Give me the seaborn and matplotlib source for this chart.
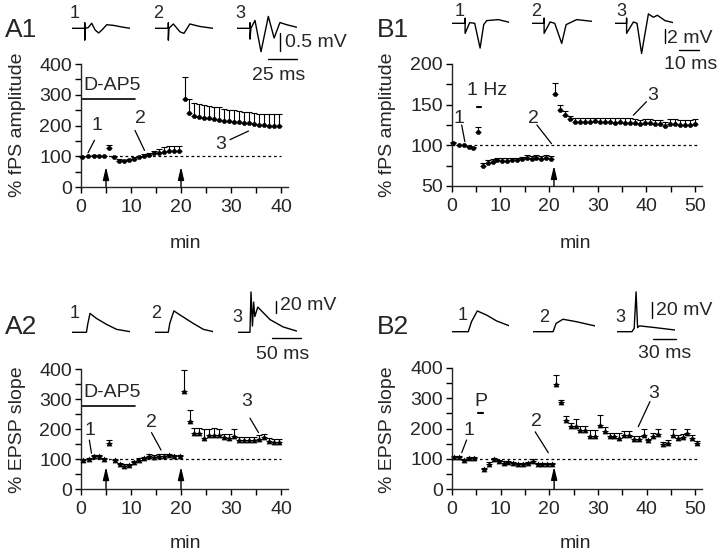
import numpy as np
import matplotlib
matplotlib.use("Agg")
import matplotlib.pyplot as plt
import seaborn as sns

W, H = 720, 554

# ---------------- time course data (min, % baseline, upper s.e.m.) ----------------
a1_min = [0.2, 1.4, 2.5, 3.5, 4.5, 5.5, 6.5, 7.5, 8.5, 9.5, 10.5, 11.5, 12.5, 13.5, 14.5,
          15.5, 16.5, 17.5, 18.5, 19.5, 20.8, 21.5, 22.5, 23.5, 24.5, 25.5, 26.5, 27.5,
          28.5, 29.5, 30.5, 31.5, 32.5, 33.5, 34.5, 35.5, 36.5, 37.5, 38.5, 39.5]
a1_amp = [98, 100, 102, 100, 100, 128, 98, 86, 83, 88, 92, 97, 102, 105, 109, 111, 115, 118,
          118, 118, 287, 240, 230, 228, 226, 224, 221, 219, 216, 214, 212, 210, 208, 207,
          205, 203, 201, 200, 200, 200]
a1_err = [2, 2, 2, 2, 2, 8, 3, 4, 4, 4, 4, 5, 6, 7, 8, 12, 14, 15, 15, 15, 72, 46, 42, 42,
          42, 40, 40, 40, 39, 38, 38, 37, 37, 36, 36, 36, 36, 37, 38, 38]

b1_min = [0.3, 1.6, 2.6, 3.6, 4.4, 5.5, 6.4, 7.4, 8.4, 9.4, 10.4, 11.4, 12.4, 13.4, 14.4,
          15.4, 16.4, 17.4, 18.4, 19.4, 20.4, 21.2, 22.2, 23.3, 24.3, 25.3, 26.4, 27.4,
          28.4, 29.4, 30.5, 31.5, 32.5, 33.6, 34.6, 35.6, 36.6, 37.7, 38.7, 39.7, 40.7,
          41.8, 42.8, 43.8, 44.9, 45.9, 46.9, 47.9, 49.0, 50.0]
b1_amp = [103, 100, 100, 98, 97, 117, 74, 78, 80, 82, 81, 81, 82, 82, 83, 84, 83, 84, 83,
          84, 83, 163, 143, 137, 132, 129, 129, 129, 129, 130, 129, 129, 129, 128, 129,
          128, 128, 127, 126, 127, 127, 126, 126, 124, 126, 126, 125, 125, 125, 126]
b1_err = [1, 1, 1, 1, 1, 5, 4, 4, 3, 3, 3, 3, 3, 3, 3, 4, 4, 4, 4, 4, 4, 14, 7, 5, 4, 4, 4,
          4, 4, 4, 5, 5, 5, 5, 5, 5, 5, 5, 5, 5, 5, 5, 5, 5, 6, 6, 6, 6, 6, 6]

a2_min = [0.3, 1.5, 2.5, 3.5, 4.5, 5.5, 6.7, 7.7, 8.5, 9.5, 10.5, 11.5, 12.5, 13.5, 14.5,
          15.5, 16.5, 17.5, 18.5, 19.8, 20.6, 21.7, 22.6, 23.6, 24.6, 25.6, 26.6, 27.6,
          28.6, 29.6, 30.6, 31.6, 32.6, 33.6, 34.6, 35.6, 36.6, 37.6, 38.6, 39.6]
a2_slope = [97, 100, 109, 111, 101, 155, 98, 84, 78, 80, 89, 98, 103, 111, 107, 111, 111,
            112, 109, 109, 328, 227, 186, 186, 169, 180, 180, 180, 172, 169, 177, 163, 163,
            163, 163, 166, 172, 161, 158, 156]
a2_err = [3, 3, 3, 3, 3, 8, 3, 4, 4, 4, 4, 4, 4, 5, 5, 5, 5, 5, 5, 5, 69, 36, 18, 18, 30,
          20, 22, 20, 12, 15, 22, 12, 12, 12, 12, 15, 12, 10, 10, 10]

b2_min = [0.5, 1.5, 2.5, 3.5, 4.5, 6.6, 7.6, 8.6, 9.6, 10.6, 11.6, 12.6, 13.6, 14.6, 15.6,
          16.6, 17.6, 18.6, 19.6, 20.6, 21.4, 22.4, 23.4, 24.4, 25.4, 26.4, 27.4, 28.4,
          29.4, 30.4, 31.4, 32.4, 33.4, 34.4, 35.4, 36.4, 37.4, 38.4, 39.4, 40.4, 41.4,
          42.4, 43.4, 44.4, 45.4, 46.4, 47.4, 48.4, 49.4, 50.4]
b2_slope = [105, 105, 97, 103, 103, 65, 83, 98, 91, 87, 89, 86, 83, 83, 86, 94, 81, 81, 81,
            81, 348, 288, 229, 207, 207, 194, 194, 174, 174, 213, 191, 174, 174, 169, 180,
            180, 165, 165, 180, 161, 174, 183, 150, 152, 180, 169, 172, 185, 169, 152]
b2_err = [3, 3, 3, 3, 3, 5, 5, 4, 4, 4, 4, 4, 4, 4, 4, 4, 4, 4, 4, 4, 30, 5, 12, 12, 25,
          15, 15, 20, 20, 30, 15, 10, 10, 15, 12, 12, 10, 10, 20, 5, 10, 15, 5, 10, 20, 10,
          10, 12, 10, 8]

# ---------------- sample traces (ms, mV) ----------------
a1_tr_ms = [[0, 11, 11, 11, 11.3, 14, 17, 20, 23, 26, 30, 36, 44, 50],
            [0, 11.5, 11.5, 11.5, 12, 15.8, 21.6, 25, 30, 38.8, 50],
            [0, 11.2, 11.2, 11.2, 12, 15.5, 20.7, 27, 32, 37, 42.8, 51.4]]
a1_tr_mv = [[0, 0, 0.15, -0.33, 0, 0.02, 0.14, -0.05, -0.13, -0.04, 0.1, 0.08, 0.03, 0],
            [0, 0, 0.15, -0.33, 0, 0.12, -0.1, -0.14, 0.12, 0.05, 0],
            [0, 0, 0.15, -0.3, 0, 0.22, -0.65, 0.33, -0.27, 0.16, 0.1, 0.03]]

b1_tr_ms = [[0, 6.7, 6.7, 6.7, 9.0, 11.5, 14.2, 16.0, 17.5, 23.3, 28.8],
            [0, 6.2, 6.2, 6.2, 9.2, 11.5, 15, 17.2, 22.5, 30],
            [0, 5.8, 5.8, 5.8, 9.2, 11.0, 13.3, 16.7, 19.2, 21.2, 25, 29.2]]
b1_tr_mv = [[0, 0, 0.75, -1.5, 0.1, 0.0, -3.7, -0.2, 0.4, 0.55, 0.15],
            [0, 0, 0.75, -1.5, 0.2, 0.0, -3.0, -0.2, 0.55, 0.3],
            [0, 0, 0.75, -1.5, 0.2, 0.0, -4.5, 1.4, 0.9, 1.2, 0.4, 0.1]]

a2_tr_ms = [[0, 25, 27, 31, 42, 59, 76, 99],
            [0, 22.5, 25, 32, 42.4, 65, 82, 99],
            [0, 19.8, 21.5, 24, 26, 28, 33, 54, 76, 99]]
a2_tr_mv = [[0, 0, 12, 30, 22, 12.6, 4.7, 1],
            [0, 0, 14, 34, 27.5, 14, 4.7, 1],
            [0, 0, 64, 10, 48, 25, 40, 20, 8.5, 2]]

b2_tr_ms = [[0, 21.8, 26, 33.7, 46, 59, 76],
            [0, 26, 30, 39, 57, 81],
            [0, 20, 23, 25.5, 27.5, 30, 50, 77]]
b2_tr_mv = [[0, 0, 12, 25, 20, 13, 7],
            [0, 0, 10, 15, 12, 7],
            [0, 0, 4, 48, 5, 7, 5, 2]]

sns.set_style("ticks")
plt.rcParams['font.family'] = ['Liberation Sans', 'DejaVu Sans']
plt.rcParams['axes.linewidth'] = 1.0
FS = 14

fig = plt.figure(figsize=(W / 100, H / 100), dpi=100)


def px_rect(x0, y0, x1, y1):
    return [x0 / W, 1 - y1 / H, (x1 - x0) / W, (y1 - y0) / H]


def ftext(x, y, s, size=FS, **kw):
    fig.text(x / W, 1 - y / H, s, fontsize=size, **kw)


def time_course(rect, t, v, err, marker, ms, xmax, ylim, yticks, yminor, xticks, xminor):
    ax = fig.add_axes(px_rect(*rect))
    ax.errorbar(t, v, yerr=[np.zeros(len(err)), err], fmt='none', ecolor='k',
                elinewidth=0.8, capsize=2, capthick=0.8, clip_on=False)
    sns.scatterplot(x=t, y=v, ax=ax, marker=marker, s=ms, color='k',
                    edgecolor='k', linewidth=0.3, clip_on=False, zorder=3)
    ax.set_xlim(0, xmax)
    ax.set_ylim(*ylim)
    ax.set_xticks(xticks)
    ax.set_xticks(xminor, minor=True)
    ax.set_yticks(yticks)
    ax.set_yticks(yminor, minor=True)
    ax.tick_params(which='both', direction='out', length=4.5, width=1.0,
                   labelsize=FS, pad=2, color='k')
    ax.tick_params(axis='x', pad=4)
    sns.despine(ax=ax)
    ax.spines['left'].set_bounds(*ylim)
    return ax


def arrow(ax, x, y0, y1):
    ax.annotate("", xy=(x, y1), xytext=(x, y0),
                arrowprops=dict(arrowstyle="-|>,head_length=0.55,head_width=0.13",
                                color='k', lw=1.0, shrinkA=0, shrinkB=0,
                                mutation_scale=14), annotation_clip=False)


def pointer(ax, label, tx, ty, x0, y0, x1, y1):
    ax.text(tx, ty, label, fontsize=FS, ha='center', va='center')
    ax.plot([x0, x1], [y0, y1], color='k', lw=0.9)


def traces(x_starts, base, ms_list, mv_list, ppms, ppmv, ylim):
    axes = []
    for x0, tms, tmv in zip(x_starts, ms_list, mv_list):
        dur = max(tms)
        rect = (x0, base - ylim[1] * ppmv, x0 + dur * ppms, base - ylim[0] * ppmv)
        tax = fig.add_axes(px_rect(*rect))
        sns.lineplot(x=tms, y=tmv, ax=tax, sort=False, estimator=None, color='k', lw=1.0)
        tax.set_xlim(0, dur)
        tax.set_ylim(*ylim)
        tax.axis('off')
        axes.append(tax)
    return axes


def scalebar(tax, vx, vy0, vy1, hy, hx0, hx1):
    tax.plot([vx, vx], [vy0, vy1], color='k', lw=1.0, clip_on=False)
    tax.plot([hx0, hx1], [hy, hy], color='k', lw=1.0, clip_on=False)


# ---------------- A1 ----------------
ax = time_course((81, 64, 288, 187), a1_min, a1_amp, a1_err, 'o', 10, 41.4, (0, 400),
                 [0, 100, 200, 300, 400], [50, 150, 250, 350],
                 [0, 10, 20, 30, 40], [5, 15, 25, 35])
ax.plot([0, 40], [100, 100], ls=(0, (2.2, 2.2)), color='k', lw=0.9)
ax.plot([0, 10.7], [285, 285], color='k', lw=1.2)
ax.text(0.4, 330, "D-AP5", fontsize=FS, ha='left', va='center')
arrow(ax, 5, 0, 66)
arrow(ax, 20, 0, 66)
pointer(ax, "1", 3.1, 200, 1.4, 111, 2.7, 152)
pointer(ax, "2", 11.8, 222, 10.8, 184, 12.7, 119)
pointer(ax, "3", 27.9, 139, 29.8, 154, 33.5, 182)

tx = traces([72, 155, 237], 28.3, a1_tr_ms, a1_tr_mv, 1.16, 36, (-0.7, 0.4))
scalebar(tx[2], 37, -0.13, -0.63, -0.85, 26.7, 51.7)
tx[2].text(41, -0.4, "0.5 mV", fontsize=FS, ha='left', va='center', clip_on=False)
tx[2].text(36, -1.3, "25 ms", fontsize=FS, ha='center', va='center', clip_on=False)
for s, x in zip("123", [75, 158, 240]):
    ftext(x, 14, s, size=13, ha='center', va='center')
ftext(5, 30, "A1", size=19, ha='left', va='center')
ftext(18, 125, "% fPS amplitude", ha='center', va='center', rotation=90)
ftext(185, 243, "min", ha='center', va='center')

# ---------------- B1 ----------------
ax = time_course((451.7, 64, 702, 186), b1_min, b1_amp, b1_err, 'o', 10, 51.4, (50, 200),
                 [50, 100, 150, 200], [75, 125, 175],
                 [0, 10, 20, 30, 40, 50], [5, 15, 25, 35, 45])
ax.plot([0, 50.5], [100, 100], ls=(0, (2.2, 2.2)), color='k', lw=0.9)
ax.text(7.2, 167, "1 Hz", fontsize=FS, ha='center', va='center')
ax.plot([5.2, 6.0], [147.5, 147.5], color='k', lw=1.5)
arrow(ax, 21, 50, 75)
pointer(ax, "1", 1.5, 133, 2.05, 125, 2.7, 104.5)
pointer(ax, "2", 16.8, 133, 17.5, 125, 20.5, 102)
pointer(ax, "3", 41.3, 161, 40, 153.7, 37.3, 137)

tx = traces([451.7, 531.7, 615], 23.3, b1_tr_ms, b1_tr_mv, 2.0, 6.7, (-4.8, 1.6))
scalebar(tx[2], 25, -0.9, -2.9, -4.0, 32.2, 42.2)
tx[2].text(26, -2.2, "2 mV", fontsize=FS, ha='left', va='center', clip_on=False)
tx[2].text(38, -6.2, "10 ms", fontsize=FS, ha='center', va='center', clip_on=False)
for s, x in zip("123", [460, 536, 621]):
    ftext(x, 12, s, size=13, ha='center', va='center')
ftext(377, 30, "B1", size=19, ha='left', va='center')
ftext(387, 125, "% fPS amplitude", ha='center', va='center', rotation=90)
ftext(575, 243, "min", ha='center', va='center')

# ---------------- A2 ----------------
ax = time_course((81, 369, 288, 489), a2_min, a2_slope, a2_err, '^', 14, 41.4, (0, 400),
                 [0, 100, 200, 300, 400], [50, 150, 250, 350],
                 [0, 10, 20, 30, 40], [5, 15, 25, 35])
ax.plot([0, 40], [100, 100], ls=(0, (2.2, 2.2)), color='k', lw=0.9)
ax.plot([0, 10.7], [278, 278], color='k', lw=1.2)
ax.text(0.4, 321, "D-AP5", fontsize=FS, ha='left', va='center')
arrow(ax, 5, 0, 74)
arrow(ax, 20, 0, 74)
pointer(ax, "1", 1.8, 195, 1.67, 163, 2.1, 119)
pointer(ax, "2", 14.1, 223, 14.1, 188, 16, 130)
pointer(ax, "3", 33.1, 290, 33.8, 236, 35.5, 188)

tx = traces([71.7, 155, 238.3], 332.3, a2_tr_ms, a2_tr_mv, 0.59, 0.63, (-5, 70))
scalebar(tx[2], 64, 50, 30, -8.6, 57, 107)
tx[2].text(70, 43, "20 mV", fontsize=FS, ha='left', va='center', clip_on=False)
tx[2].text(75, -36, "50 ms", fontsize=FS, ha='center', va='center', clip_on=False)
for s, x, y in zip("123", [75, 156, 237], [314, 314, 317]):
    ftext(x, y, s, size=13, ha='center', va='center')
ftext(5, 327, "A2", size=19, ha='left', va='center')
ftext(18, 430, "% EPSP slope", ha='center', va='center', rotation=90)
ftext(185, 543, "min", ha='center', va='center')

# ---------------- B2 ----------------
ax = time_course((452, 368, 702, 489), b2_min, b2_slope, b2_err, '^', 14, 51.4, (0, 400),
                 [0, 100, 200, 300, 400], [50, 150, 250, 350],
                 [0, 10, 20, 30, 40, 50], [5, 15, 25, 35, 45])
ax.plot([0, 50.5], [100, 100], ls=(0, (2.2, 2.2)), color='k', lw=0.9)
ax.text(6.0, 289, "P", fontsize=FS, ha='center', va='center')
ax.plot([5.4, 6.3], [250, 250], color='k', lw=1.5)
arrow(ax, 21, 0, 74)
pointer(ax, "1", 3.4, 195, 3.0, 162, 2.0, 120)
pointer(ax, "2", 17.4, 222, 17.1, 189, 19.8, 120)
pointer(ax, "3", 41.5, 316, 40.7, 289, 38.3, 206)

tx = traces([451.7, 533.3, 616.7], 331.7, b2_tr_ms, b2_tr_mv, 0.76, 0.83, (-5, 55))
scalebar(tx[2], 47, 36, 16, -9.2, 48, 78)
tx[2].text(52, 26, "20 mV", fontsize=FS, ha='left', va='center', clip_on=False)
tx[2].text(63.5, -26, "30 ms", fontsize=FS, ha='center', va='center', clip_on=False)
for s, x, y in zip("123", [463, 544, 620], [316, 317, 318]):
    ftext(x, y, s, size=13, ha='center', va='center')
ftext(377, 327, "B2", size=19, ha='left', va='center')
ftext(387, 430, "% EPSP slope", ha='center', va='center', rotation=90)
ftext(575, 543, "min", ha='center', va='center')

fig.savefig("out.png", dpi=100)
